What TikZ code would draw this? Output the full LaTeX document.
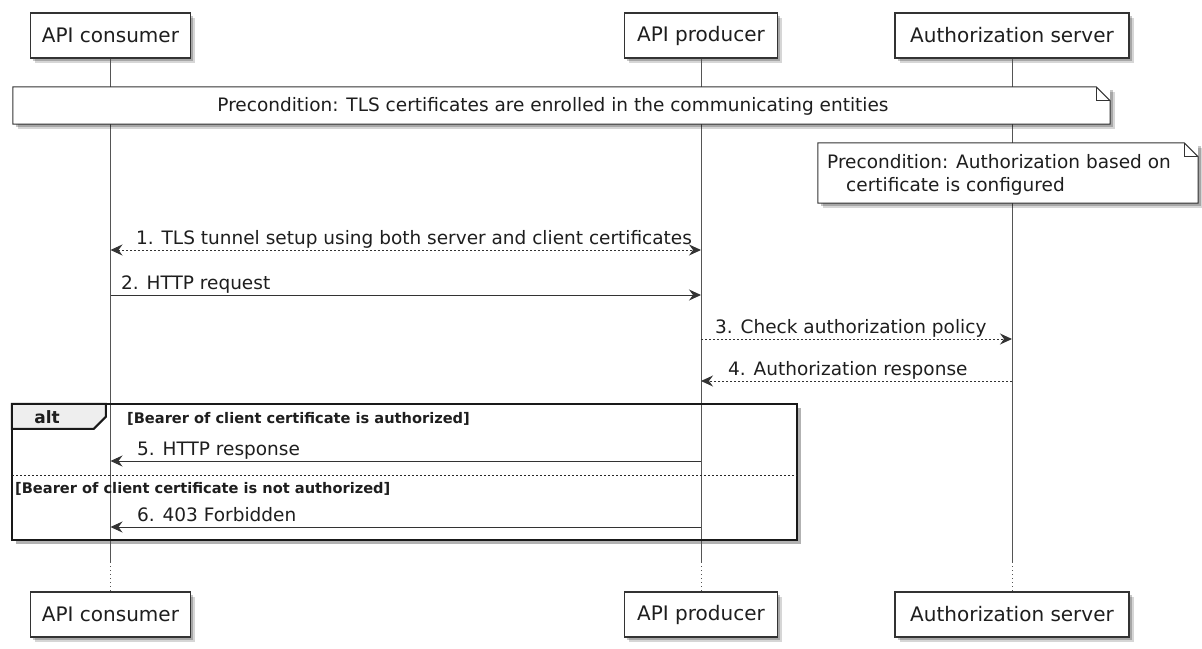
\documentclass[tikz,border=0pt]{standalone}
\usepackage{fontspec}
\setmainfont{DejaVu Sans}
\usetikzlibrary{arrows.meta,shadows,calc}
\definecolor{ink}{HTML}{1E1E1E}
\definecolor{edge}{HTML}{333333}
\definecolor{lifec}{HTML}{555555}
\definecolor{tabfill}{HTML}{EEEEEE}
\begin{document}
\begin{tikzpicture}[x=1pt,y=-1pt,
  softshadow/.style={drop shadow={shadow xshift=2.5pt,shadow yshift=-2.5pt,opacity=0.22,fill=black},
                     drop shadow={shadow xshift=4.5pt,shadow yshift=-4.5pt,opacity=0.16,fill=black}},
  partbox/.style={draw=edge, line width=1.4pt, fill=white, softshadow, minimum height=45pt,
                  inner sep=0pt, font=\fontsize{20}{24}\selectfont, text=ink},
  notebg/.style={fill=white, inner sep=0pt, softshadow},
  noteline/.style={draw=edge, line width=1pt, line join=miter},
  notetext/.style={inner sep=0pt, font=\fontsize{18.5}{23}\selectfont, text=ink},
  life/.style={draw=lifec, line width=1pt},
  lifedot/.style={draw=lifec, line width=1pt, dash pattern=on 1pt off 3pt},
  msg/.style={draw=edge, line width=1pt, -{Stealth[length=12pt,width=11pt,inset=4pt]}},
  msgboth/.style={draw=edge, line width=1pt, {Stealth[length=12pt,width=11pt,inset=4pt]}-{Stealth[length=12pt,width=11pt,inset=4pt]}},
  dotline/.style={dash pattern=on 2pt off 2pt},
  lbl/.style={anchor=base west, inner sep=0pt, font=\fontsize{18.5}{22}\selectfont, text=ink},
  altbg/.style={fill=white, inner sep=0pt, drop shadow={shadow xshift=4pt,shadow yshift=-4pt,opacity=0.3,fill=black}},
  altline/.style={draw=black!90, line width=2.5pt, line join=miter},
  tabline/.style={draw=black!90, line width=2pt, fill=tabfill, line join=miter},
  altlbl/.style={inner sep=0pt, font=\bfseries\fontsize{17}{20}\selectfont, text=ink},
  guard/.style={anchor=base west, inner sep=0pt, font=\bfseries\fontsize{14.6}{17}\selectfont, text=ink},
  sepline/.style={draw=black!85, line width=1pt, dash pattern=on 2pt off 2pt}
]
\useasboundingbox (0,0) rectangle (1202,648);

% alt frame background
\node[altbg, minimum width=785pt, minimum height=136pt] (alt) at (404.5,472) {};

% participants
\node[partbox, minimum width=160pt] (c1) at (110.5,35.5) {API consumer};
\node[partbox, minimum width=153pt] (p1) at (701,35.5) {API producer};
\node[partbox, minimum width=234pt] (a1) at (1012,35.5) {Authorization server};
\node[partbox, minimum width=160pt] (c2) at (110.5,614.5) {API consumer};
\node[partbox, minimum width=153pt] (p2) at (701,614.5) {API producer};
\node[partbox, minimum width=234pt] (a2) at (1012,614.5) {Authorization server};

% lifelines
\coordinate (cd1) at (110.5,562); \coordinate (cd2) at (110.5,590);
\coordinate (pd1) at (701,562);   \coordinate (pd2) at (701,590);
\coordinate (ad1) at (1012,562);  \coordinate (ad2) at (1012,590);
\draw[life] (c1.south) -- (cd1); \draw[lifedot] (cd1) -- (cd2); \draw[life] (cd2) -- (c2.north);
\draw[life] (p1.south) -- (pd1); \draw[lifedot] (pd1) -- (pd2); \draw[life] (pd2) -- (p2.north);
\draw[life] (a1.south) -- (ad1); \draw[lifedot] (ad1) -- (ad2); \draw[life] (ad2) -- (a2.north);

% note 1
\node[notebg, minimum width=1097pt, minimum height=37pt] (n1) at (561.5,105.5) {};
\draw[noteline] (n1.north west) -- ([xshift=-14pt]n1.north east) -- ([yshift=-14pt]n1.north east)
  -- (n1.south east) -- (n1.south west) -- cycle;
\draw[noteline] ([xshift=-14pt]n1.north east) -- ([xshift=-14pt,yshift=-14pt]n1.north east) -- ([yshift=-14pt]n1.north east);
\node[notetext] (n1t) at (553,106) {Precondition: TLS certificates are enrolled in the communicating entities};

% note 2
\node[notebg, minimum width=380pt, minimum height=60pt] (n2) at (1008,173) {};
\draw[noteline] (n2.north west) -- ([xshift=-14pt]n2.north east) -- ([yshift=-14pt]n2.north east)
  -- (n2.south east) -- (n2.south west) -- cycle;
\draw[noteline] ([xshift=-14pt]n2.north east) -- ([xshift=-14pt,yshift=-14pt]n2.north east) -- ([yshift=-14pt]n2.north east);
\node[notetext, anchor=west, align=left] (n2t) at (827,174.5) {Precondition: Authorization based on\\\hspace*{19pt}certificate is configured};

% alt frame
\draw[tabline] (alt.north west) -- ++(94,0) -- ++(0,13) -- ++(-12,12) -- ++(-82,0) -- cycle;
\draw[altline] (alt.north west) rectangle (alt.south east);
\node[altlbl] (altt) at (47,417) {alt};
\coordinate (s1) at (12,475); \coordinate (s2) at (797,475);
\draw[sepline] (s1) -- (s2);
\node[guard] (g1) at (127,423) {[Bearer of client certificate is authorized]};
\node[guard] (g2) at (15,493) {[Bearer of client certificate is not authorized]};

% messages
\coordinate (m1c) at (110.5,250); \coordinate (m1p) at (701,250);
\draw[msgboth, dotline] (m1c) -- (m1p);
\node[lbl] (l1) at (136,244) {1. TLS tunnel setup using both server and client certificates};

\coordinate (m2c) at (110.5,295); \coordinate (m2p) at (701,295);
\draw[msg] (m2c) -- (m2p);
\node[lbl] (l2) at (121,289) {2. HTTP request};

\coordinate (m3p) at (701,339); \coordinate (m3a) at (1012,339);
\draw[msg, dotline] (m3p) -- (m3a);
\node[lbl] (l3) at (715,333) {3. Check authorization policy};

\coordinate (m4a) at (1012,381); \coordinate (m4p) at (701,381);
\draw[msg, dotline] (m4a) -- (m4p);
\node[lbl] (l4) at (728,375) {4. Authorization response};

\coordinate (m5p) at (701,461); \coordinate (m5c) at (110.5,461);
\draw[msg] (m5p) -- (m5c);
\node[lbl] (l5) at (137,455) {5. HTTP response};

\coordinate (m6p) at (701,527); \coordinate (m6c) at (110.5,527);
\draw[msg] (m6p) -- (m6c);
\node[lbl] (l6) at (137,521) {6. 403 Forbidden};
\end{tikzpicture}
\end{document}
